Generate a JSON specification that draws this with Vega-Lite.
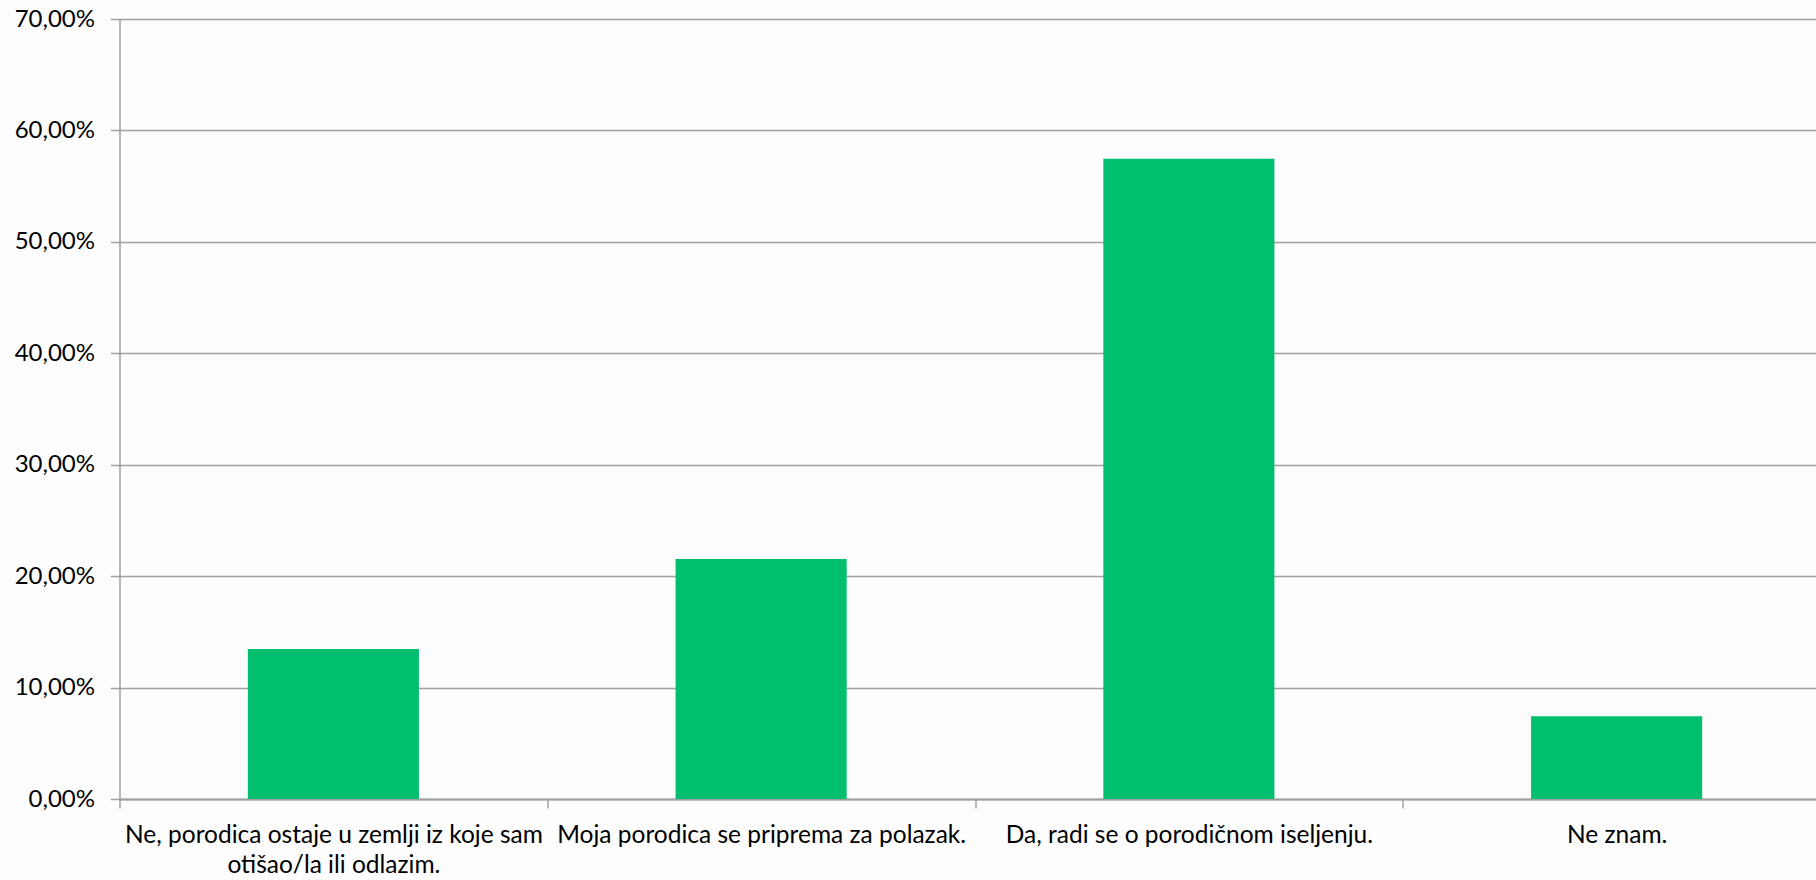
{
  "$schema": "https://vega.github.io/schema/vega-lite/v6.json",
  "width": 1711,
  "height": 780,
  "autosize": {"type": "none"},
  "padding": {"left": 119.5, "top": 19, "right": 0, "bottom": 81},
  "background": "#fdfdfd",
  "data": {
    "values": [
      {"odgovor": "Ne, porodica ostaje u zemlji iz koje sam otišao/la ili odlazim.", "udio": 0.1346},
      {"odgovor": "Moja porodica se priprema za polazak.", "udio": 0.2153},
      {"odgovor": "Da, radi se o porodičnom iseljenju.", "udio": 0.5745},
      {"odgovor": "Ne znam.", "udio": 0.0742}
    ]
  },
  "mark": {"type": "bar", "color": "#00BF6F", "width": {"band": 0.4}},
  "encoding": {
    "x": {
      "field": "odgovor",
      "type": "nominal",
      "sort": null,
      "scale": {"paddingInner": 0, "paddingOuter": 0},
      "axis": {
        "title": null,
        "labelAngle": 0,
        "tickBand": "extent",
        "tickSize": 9,
        "tickColor": "#a0a0a0",
        "tickWidth": 1.5,
        "domainColor": "#a0a0a0",
        "domainWidth": 2,
        "labelFont": "Lato",
        "labelFontSize": 24.5,
        "labelColor": "#000000",
        "labelPadding": 15,
        "labelLimit": 0,
        "labelLineHeight": 30,
        "labelExpr": "datum.value == 'Ne, porodica ostaje u zemlji iz koje sam otišao/la ili odlazim.' ? ['Ne, porodica ostaje u zemlji iz koje sam', 'otišao/la ili odlazim.'] : datum.value"
      }
    },
    "y": {
      "field": "udio",
      "type": "quantitative",
      "scale": {"domain": [0, 0.7], "nice": false},
      "axis": {
        "title": null,
        "values": [0, 0.1, 0.2, 0.3, 0.4, 0.5, 0.6, 0.7],
        "labelExpr": "replace(format(datum.value, '.2%'), '.', ',')",
        "labelFont": "Lato",
        "labelFontSize": 24,
        "labelColor": "#000000",
        "labelPadding": 16,
        "tickSize": 9,
        "tickColor": "#a0a0a0",
        "tickWidth": 1.5,
        "domainColor": "#a0a0a0",
        "domainWidth": 1.5,
        "gridColor": "#a0a0a0",
        "gridWidth": 1.5
      }
    }
  },
  "config": {"view": {"stroke": null}}
}
